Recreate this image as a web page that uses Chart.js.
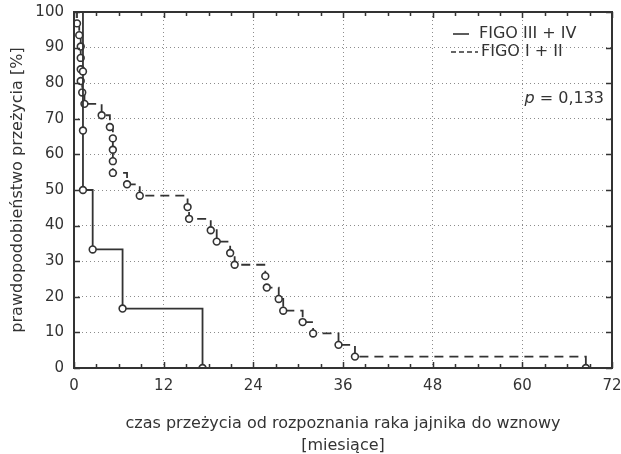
<!DOCTYPE html>
<html>
<head>
<meta charset="utf-8">
<script src="https://cdn.jsdelivr.net/npm/chart.js@4.4.0/dist/chart.umd.min.js"></script>
<style>
    html, body { margin: 0; padding: 0; background: #fff; }
    #wrap { width: 621px; height: 454px; }
</style>
</head>
<body>
<div id="wrap"><canvas id="chartCanvas" width="621" height="454"></canvas></div>
<script>
const groupLabels = ["FIGO III + IV", "FIGO I + II"];

// FIGO III + IV: czas do wznowy [miesiące] i prawdopodobieństwo przeżycia K-M [%]
const advMonths   = [0, 1.2, 1.2, 1.2, 2.5, 6.5, 17.2];
const advSurvival = [100, 83.3, 66.7, 50.0, 33.3, 16.7, 0];

// FIGO I + II
const earlyMonths = [0, 0.4, 0.7, 0.9, 0.9, 0.9, 0.9, 1.1, 1.4, 3.7, 4.8, 5.2, 5.2, 5.2, 5.2,
    7.1, 8.8, 15.2, 15.4, 18.3, 19.1, 20.9, 21.5, 25.6, 25.8, 27.4, 28.0, 30.6, 32.0, 35.4, 37.6, 68.5];
const earlySurvival = [100, 96.8, 93.5, 90.3, 87.1, 83.9, 80.6, 77.4, 74.2, 71.0, 67.7, 64.5, 61.3, 58.1, 54.8,
    51.6, 48.4, 45.2, 41.9, 38.7, 35.5, 32.3, 29.0, 25.8, 22.6, 19.4, 16.1, 12.9, 9.7, 6.5, 3.2, 0];

const xTicks = [0, 12, 24, 36, 48, 60, 72];
const yTicks = [0, 10, 20, 30, 40, 50, 60, 70, 80, 90, 100];
const minorStep = 3;
const pValue = "0,133";

const INK = "#333";
const FONT = "'DejaVu Sans', sans-serif";

function toPoints(xs, ys) {
    return xs.map((m, i) => ({ x: m, y: ys[i] }));
}

// ramka, znaczniki do wewnątrz, legenda i wartość p
const framePlugin = {
    id: "frame",
    afterDraw(chart) {
        const { ctx, chartArea: a, scales: { x, y } } = chart;
        ctx.save();
        ctx.strokeStyle = INK;
        ctx.lineWidth = 1.5;
        ctx.beginPath();
        for (let m = xTicks[0]; m <= xTicks[xTicks.length - 1]; m += minorStep) {
            const px = Math.round(x.getPixelForValue(m)) + 0.5;
            const len = xTicks.includes(m) ? 6 : 4;
            ctx.moveTo(px, a.bottom); ctx.lineTo(px, a.bottom - len);
            ctx.moveTo(px, a.top); ctx.lineTo(px, a.top + len);
        }
        for (const v of yTicks) {
            const py = Math.round(y.getPixelForValue(v)) + 0.5;
            ctx.moveTo(a.left, py); ctx.lineTo(a.left + 6, py);
            ctx.moveTo(a.right, py); ctx.lineTo(a.right - 6, py);
        }
        ctx.stroke();
        ctx.lineWidth = 2;
        ctx.strokeRect(a.left, a.top, a.right - a.left, a.bottom - a.top);

        // legenda
        ctx.font = "16px " + FONT;
        ctx.fillStyle = INK;
        ctx.textBaseline = "middle";
        const rows = [
            { ds: chart.data.datasets[0], x0: 453, x1: 469, tx: 479, ty: 34 },
            { ds: chart.data.datasets[1], x0: 451, x1: 478, tx: 481, ty: 52 }
        ];
        rows.forEach(r => {
            ctx.lineWidth = 1.6;
            ctx.setLineDash(r.ds.borderDash ? [5, 3] : []);
            ctx.beginPath();
            ctx.moveTo(r.x0, r.ty); ctx.lineTo(r.x1, r.ty);
            ctx.stroke();
            ctx.setLineDash([]);
            ctx.fillText(r.ds.label, r.tx, r.ty);
        });

        ctx.font = "italic 16px " + FONT;
        const pW = ctx.measureText("p").width;
        ctx.font = "16px " + FONT;
        const rest = " = " + pValue;
        const restW = ctx.measureText(rest).width;
        const px0 = 604 - restW - pW;
        ctx.font = "italic 16px " + FONT;
        ctx.fillText("p", px0, 99);
        ctx.font = "16px " + FONT;
        ctx.fillText(rest, px0 + pW, 99);
        ctx.restore();
    }
};

const ctx = document.getElementById("chartCanvas").getContext("2d");
const chart = new Chart(ctx, {
    type: "line",
    data: {
        datasets: [{
            label: groupLabels[0],
            data: toPoints(advMonths, advSurvival),
            borderColor: INK,
            borderWidth: 1.8,
            stepped: "before",
            fill: false,
            pointRadius: c => c.dataIndex === 0 ? 0 : 3.4,
            pointBackgroundColor: "#fff",
            pointBorderColor: INK,
            pointBorderWidth: 1.6
        }, {
            label: groupLabels[1],
            data: toPoints(earlyMonths, earlySurvival),
            borderColor: INK,
            borderWidth: 1.8,
            borderDash: [9, 6],
            stepped: "before",
            fill: false,
            pointRadius: c => c.dataIndex === 0 ? 0 : 3.4,
            pointBackgroundColor: "#fff",
            pointBorderColor: INK,
            pointBorderWidth: 1.6
        }]
    },
    options: {
        responsive: false,
        animation: false,
        layout: { padding: { top: 12, right: 9, left: 0, bottom: 0 } },
        plugins: {
            legend: { display: false },
            tooltip: { enabled: false }
        },
        scales: {
            x: {
                type: "linear",
                min: 0,
                max: 72,
                afterFit: s => { s.height = 86; s.paddingLeft = 0; s.paddingRight = 0; },
                afterBuildTicks: s => { s.ticks = xTicks.map(v => ({ value: v })); },
                ticks: { color: INK, font: { family: FONT, size: 15 }, padding: 9, maxRotation: 0 },
                grid: { color: c => (c.tick && c.tick.value > 0 && c.tick.value < 72) ? "#8c8c8c" : "transparent", lineWidth: 1, drawTicks: false },
                border: { display: false, dash: [1, 3] },
                title: {
                    display: true,
                    text: ["czas przeżycia od rozpoznania raka jajnika do wznowy", "[miesiące]"],
                    color: INK,
                    font: { family: FONT, size: 16, lineHeight: 1.375 },
                    padding: { top: 0, bottom: -3 }
                }
            },
            y: {
                min: 0,
                max: 100,
                afterFit: s => { s.width = 74; s.paddingTop = 0; s.paddingBottom = 0; },
                afterBuildTicks: s => { s.ticks = yTicks.map(v => ({ value: v })); },
                ticks: { color: INK, font: { family: FONT, size: 15 }, padding: 10 },
                grid: { color: c => (c.tick && c.tick.value > 0 && c.tick.value < 100) ? "#8c8c8c" : "transparent", lineWidth: 1, drawTicks: false },
                border: { display: false, dash: [1, 3] },
                title: {
                    display: true,
                    text: "prawdopodobieństwo przeżycia [%]",
                    color: INK,
                    font: { family: FONT, size: 16, lineHeight: 1.375 },
                    padding: { top: 7, bottom: 0 }
                }
            }
        }
    },
    plugins: [framePlugin]
});
</script>
</body>
</html>
